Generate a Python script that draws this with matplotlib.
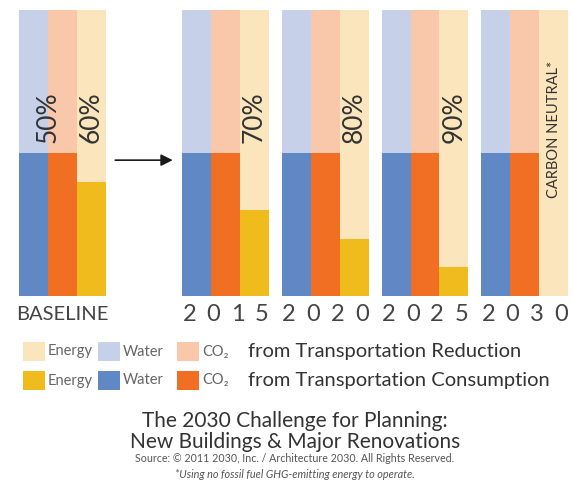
import matplotlib
matplotlib.use("Agg")
import matplotlib.pyplot as plt
from matplotlib.patches import Rectangle
from matplotlib.transforms import blended_transform_factory

plt.rcParams['font.family'] = ['Lato', 'DejaVu Sans']

# ---- data ----
groups = ['BASELINE', '2015', '2020', '2025', '2030']
water_consumption = [50, 50, 50, 50, 50]
co2_consumption = [50, 50, 50, 50, 50]
energy_consumption = [40, 30, 20, 10, 0]
baseline_label = '50%'
energy_labels = ['60%', '70%', '80%', '90%', 'CARBON NEUTRAL*']

# ---- colours ----
light = {'Water': '#c6d0e9', 'CO2': '#f9c8aa', 'Energy': '#fae5bd'}
dark = {'Water': '#5f88c5', 'CO2': '#f06f22', 'Energy': '#f0bb1c'}

fig = plt.figure(figsize=(5.73, 4.91), dpi=100)
W, H = 573, 491
ax = fig.add_axes([19 / W, (H - 296) / H, 549 / W, 286 / H])

bw = 1.0
arrow_gap = 2.65
stride = 3.45
group_left = [0.0]
for i in range(1, len(groups)):
    group_left.append(3 * bw + arrow_gap if i == 1 else group_left[-1] + stride)

for i, g in enumerate(groups):
    x0 = group_left[i]
    xs = [x0 + 0.5, x0 + 1.5, x0 + 2.5]
    cons = [water_consumption[i], co2_consumption[i], energy_consumption[i]]
    keys = ['Water', 'CO2', 'Energy']
    for x, c, k in zip(xs, cons, keys):
        ax.bar(x, 100, width=bw, color=light[k], linewidth=0)
        ax.bar(x, c, width=bw, color=dark[k], linewidth=0)
    lab = energy_labels[i]
    if lab.endswith('%'):
        ax.text(x0 + 2.5, 53.5, lab, rotation=90, ha='center', va='bottom',
                fontsize=19, color='#333333')
    else:
        ax.text(x0 + 2.5, 58.4, lab, rotation=90, ha='center', va='center',
                fontsize=10.5, color='#333333')
    if i == 0:
        ax.text(x0 + 1.0, 53.5, baseline_label, rotation=90, ha='center',
                va='bottom', fontsize=19, color='#333333')

ax.set_xlim(0, group_left[-1] + 3 * bw)
ax.set_ylim(0, 100)
ax.axis('off')

# arrow between baseline and 2015
ax.annotate('', xy=(group_left[1] - 0.33, 47.5), xytext=(3 * bw + 0.33, 47.5),
            arrowprops=dict(arrowstyle='-|>,head_length=0.7,head_width=0.35',
                            color='#1a1a1a', lw=1.2, shrinkA=0, shrinkB=0))

# group labels
trans = blended_transform_factory(ax.transData, ax.transAxes)
for i, g in enumerate(groups):
    x0 = group_left[i]
    if g.isdigit():
        for k, ch in enumerate(g):
            ax.text(x0 + 3 * bw * (0.08 + k * 0.28), -0.063, ch, transform=trans,
                    ha='center', va='center', fontsize=17, color='#444444')
    else:
        ax.text(x0 + 1.5 * bw, -0.063, g, transform=trans, ha='center',
                va='center', fontsize=14.5, color='#444444')

# legend
def fx(px):
    return px / W

def fy(py):
    return 1 - py / H

rows = [('light', 351.5, 'from Transportation Reduction'),
        ('dark', 380.5, 'from Transportation Consumption')]
items = [('Energy', 23, 48), ('Water', 98, 123), ('CO2', 177, 202)]
for kind, yc, phrase in rows:
    cmap = light if kind == 'light' else dark
    for key, sx, tx in items:
        fig.patches.append(Rectangle((fx(sx), fy(yc + 9.5)), fx(22), 19 / H,
                                     transform=fig.transFigure,
                                     color=cmap[key], linewidth=0))
        if key == 'CO2':
            fig.text(fx(tx), fy(yc), 'CO₂', ha='left', va='center',
                     fontsize=10.5, color='#666666')
        else:
            fig.text(fx(tx), fy(yc), key, ha='left', va='center',
                     fontsize=10.5, color='#666666')
    fig.text(fx(248), fy(yc), phrase, ha='left', va='center', fontsize=14.5,
             color='#333333')

# titles
cx = fx(295)
fig.text(cx, fy(421), 'The 2030 Challenge for Planning:', ha='center',
         va='center', fontsize=15, color='#333333')
fig.text(cx, fy(442), 'New Buildings & Major Renovations', ha='center',
         va='center', fontsize=15, color='#333333')
fig.text(cx, fy(458), 'Source: © 2011 2030, Inc. / Architecture 2030. All Rights Reserved.',
         ha='center', va='center', fontsize=7.7, color='#555555')
fig.text(cx, fy(475), '*Using no fossil fuel GHG-emitting energy to operate.',
         ha='center', va='center', fontsize=7.8, color='#555555', style='italic')

fig.savefig('out.png', dpi=100)
